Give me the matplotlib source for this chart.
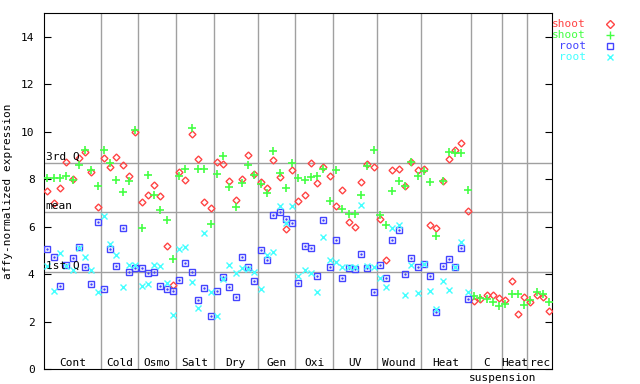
import matplotlib
matplotlib.use('Agg')
import matplotlib.pyplot as plt
import matplotlib.transforms as mtransforms

plt.rcParams['font.family'] = 'DejaVu Sans Mono'
plt.rcParams['font.size'] = 8

# treatment groups (label, number of samples)
groups = ['Cont', 'Cold', 'Osmo', 'Salt', 'Dry', 'Gen', 'Oxi', 'UV', 'Wound', 'Heat', 'C', 'Heat', 'rec']
group_sizes = [9, 6, 6, 6, 7, 6, 6, 7, 7, 8, 5, 4, 4]

# shoot (red diamonds)
shoot_red = [7.50, 7.01, 7.63, 8.72, 8.01, 8.89, 9.16, 8.30, 6.82,
             8.89, 8.51, 8.93, 8.60, 8.13, 9.99,
             7.05, 7.33, 7.75, 7.29, 5.18, 3.53,
             8.30, 7.96, 9.91, 8.85, 7.05, 6.78,
             8.72, 8.64, 7.92, 7.12, 8.01, 9.02, 8.22,
             7.88, 7.63, 8.81, 8.09, 5.90, 8.39,
             7.08, 7.33, 8.68, 7.84, 8.51, 8.13,
             6.87, 7.54, 6.19, 5.98, 7.88, 8.64, 8.51,
             6.32, 4.59, 8.39, 8.43, 7.71, 8.72, 8.39,
             8.43, 6.06, 5.94, 7.92, 8.85, 9.23, 9.53, 6.66,
             2.86, 2.94, 3.11, 3.11, 2.98,
             2.90, 3.70, 2.31, 3.03,
             2.81, 3.11, 3.03, 2.43]

# shoot (green plus)
shoot_green = [8.05, 8.05, 8.05, 8.13, 7.96, 8.60, 9.22, 8.39, 7.71,
               9.22, 8.70, 7.96, 7.46, 7.91, 10.07,
               5.94, 8.18, 7.33, 6.70, 6.28, 4.63,
               8.13, 8.43, 10.16, 8.43, 8.43, 6.11,
               8.22, 8.98, 7.67, 6.82, 7.84, 8.60, 8.18,
               7.80, 7.42, 9.19, 8.26, 7.63, 8.68,
               8.05, 7.96, 8.09, 8.13, 8.43, 7.08,
               8.39, 6.74, 6.53, 6.53, 7.33, 8.55, 9.23,
               6.49, 6.06, 7.50, 7.92, 7.71, 8.72, 8.13,
               8.34, 7.88, 5.60, 7.92, 9.15, 9.10, 9.10, 7.54,
               3.07, 2.98, 2.94, 2.81, 2.65,
               2.73, 3.15, 3.15, 2.69,
               2.90, 3.24, 3.15, 2.81]

# root (blue squares), no root samples for the last 13
root_blue = [5.07, 4.71, 3.49, 4.39, 4.69, 5.14, 4.29, 3.59, 6.19,
             3.36, 5.07, 4.35, 5.94, 4.08, 4.25,
             4.25, 4.04, 4.08, 3.49, 3.39, 3.29,
             3.76, 4.46, 4.08, 2.90, 3.40, 2.24,
             3.28, 3.87, 3.45, 3.03, 4.71, 4.29, 3.70,
             5.01, 4.59, 6.49, 6.61, 6.32, 6.15,
             3.62, 5.18, 5.09, 3.91, 6.28, 4.29,
             5.43, 3.83, 4.25, 4.21, 4.84, 4.25, 3.24,
             4.38, 3.83, 5.43, 5.85, 4.00, 4.67, 4.29,
             4.42, 3.91, 2.39, 4.33, 4.63, 4.29, 5.09, 2.94]

# root (cyan x)
root_cyan = [4.36, 3.28, 4.88, 4.35, 4.18, 5.12, 4.71, 4.18, 3.24,
             6.44, 5.28, 4.81, 3.45, 4.39, 4.39,
             3.49, 3.57, 4.39, 4.35, 3.62, 2.27,
             5.07, 5.14, 3.66, 2.56, 5.73, 3.25,
             2.24, 3.78, 4.38, 4.04, 4.26, 4.21, 4.08,
             3.36, 4.80, 4.92, 6.87, 6.15, 6.87,
             3.91, 4.16, 4.04, 3.24, 5.56, 4.59,
             4.50, 4.29, 4.29, 4.29, 6.91, 4.33, 4.29,
             3.83, 3.45, 5.94, 6.06, 3.11, 4.38, 3.19,
             4.42, 3.28, 2.52, 3.70, 3.32, 4.29, 5.35, 3.24]

quantiles = {'3rd Q': 8.68, 'mean': 6.61, '1st Q': 4.08}

red, green, blue, cyan = '#ff4444', '#44ff44', '#4444ff', '#44ffff'

fig = plt.figure(figsize=(6.4, 3.84), dpi=100)
ax = fig.add_axes([0.0692, 0.039, 0.794, 0.9264])

n = sum(group_sizes)
xs = [i + 0.5 for i in range(n)]

# quantile lines and group separators
for name, val in quantiles.items():
    ax.axhline(val, color='#a0a0a0', lw=1, zorder=1)
    ax.text(0.2, val + 0.05, name, ha='left', va='bottom', fontsize=8, zorder=5)

trans = mtransforms.blended_transform_factory(ax.transData, ax.transAxes)
start = 0
for label, size in zip(groups, group_sizes):
    end = start + size
    if end < n:
        ax.axvline(end, color='#a0a0a0', lw=1, zorder=1)
    ax.text((start + end) / 2, 0.016, label, transform=trans, ha='center', va='center', fontsize=8)
    start = end
ax.text(73, -0.024, 'suspension', transform=trans, ha='center', va='center', fontsize=8, clip_on=False)

ax.plot(xs, shoot_red, 'D', ms=3.5, mfc='none', mec=red, mew=1, ls='none', zorder=3)
ax.plot(xs, shoot_green, '+', ms=6, mec=green, mew=1.2, ls='none', zorder=3)
ax.plot(xs[:len(root_blue)], root_blue, 's', ms=4.5, mfc='none', mec=blue, mew=1, ls='none', zorder=3)
ax.plot(xs[:len(root_blue)], root_blue, '.', ms=1.5, color=blue, ls='none', zorder=3)
ax.plot(xs[:len(root_cyan)], root_cyan, 'x', ms=4.5, mec=cyan, mew=1, ls='none', zorder=3)

ax.set_xlim(0, n)
ax.set_ylim(0, 15)
ax.set_xticks([])
ax.set_yticks(range(0, 15, 2))
ax.tick_params(axis='y', direction='in', length=5, left=True, right=True, pad=7, labelsize=8)
ax.set_ylabel('affy-normalized expression', fontsize=8)
ax.yaxis.set_label_coords(-0.062, 0.5)

# legend drawn as text outside the axes
legend = [('shoot', red, 'D'), ('shoot', green, '+'), ('root', blue, 's'), ('root', cyan, 'x')]
for k, (name, col, mk) in enumerate(legend):
    y = 1 - (23.7 + 11 * k - 13.3) / 356
    ax.text(1.066, y, name, transform=ax.transAxes, ha='right', va='center', color=col, fontsize=8)
    ax.plot([1.113], [y], mk, transform=ax.transAxes, clip_on=False, ms=4 if mk != '+' else 6,
            mfc='none', mec=col, mew=1)

fig.savefig('out.png', dpi=100)
